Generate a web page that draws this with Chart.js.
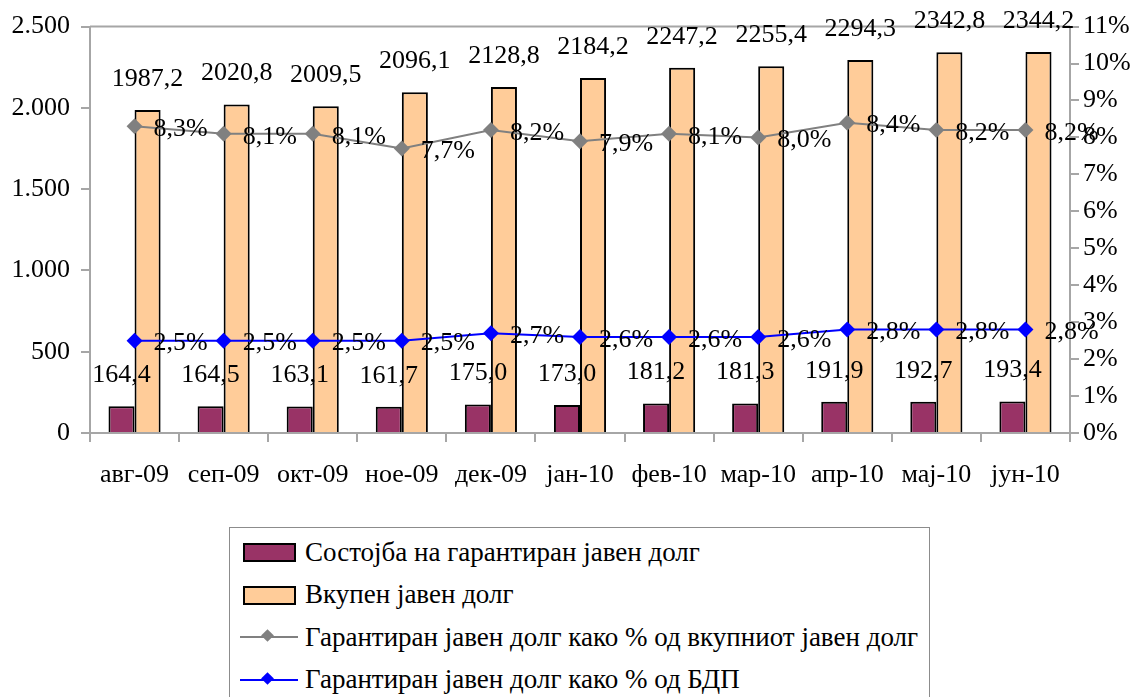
<!DOCTYPE html>
<html>
<head>
<meta charset="utf-8">
<script src="https://cdn.jsdelivr.net/npm/chart.js@4.4.1/dist/chart.umd.min.js"></script>
<style>
  body { margin: 0; background: #fff; }
  #wrap { position: relative; width: 1130px; height: 697px; overflow: hidden; }
  #legend {
    position: absolute; left: 229px; top: 527px; width: 701px; height: 185px;
    border: 1px solid #8c8c8c; box-sizing: border-box; background: #fff;
    font-family: "Liberation Serif", serif; font-size: 27px; color: #000;
  }
  .item { position: absolute; left: 10px; height: 30px; display: flex; align-items: center; white-space: nowrap; }
  .sw { width: 58px; height: 30px; position: relative; margin-right: 7px; }
  .box { position: absolute; left: 3px; top: 6px; width: 49px; height: 15px; border: 2px solid #000; }
  .ln { position: absolute; left: 0; top: 14px; width: 58px; height: 2px; }
  .dia { position: absolute; left: 23px; top: 9px; width: 9px; height: 9px; transform: rotate(45deg); }
</style>
</head>
<body>
<div id="wrap">
  <canvas id="chart" width="1130" height="697"></canvas>
  <div id="legend"></div>
</div>
<script>
// categories (months)
const months = ['авг-09', 'сеп-09', 'окт-09', 'ное-09', 'дек-09', 'јан-10', 'фев-10', 'мар-10', 'апр-10', 'мај-10', 'јун-10'];

// millions
const guaranteedDebt = [164.4, 164.5, 163.1, 161.7, 175.0, 173.0, 181.2, 181.3, 191.9, 192.7, 193.4];
const totalDebt = [1987.2, 2020.8, 2009.5, 2096.1, 2128.8, 2184.2, 2247.2, 2255.4, 2294.3, 2342.8, 2344.2];

// percentages (right axis)
const pctOfTotal = [8.3, 8.1, 8.1, 7.7, 8.2, 7.9, 8.1, 8.0, 8.4, 8.2, 8.2];
const pctOfGdp = [2.5, 2.5, 2.5, 2.5, 2.7, 2.6, 2.6, 2.6, 2.8, 2.8, 2.8];

const FONT = '"Liberation Serif", serif';
const AXIS = '#a6a6a6';

function dec(v) { return v.toFixed(1).replace('.', ','); }
function thousands(v) { return String(v).replace(/\B(?=(\d{3})+(?!\d))/g, '.'); }

// draws the value labels and the top frame line of the plot area
const labelsPlugin = {
  id: 'valueLabels',
  beforeDatasetsDraw(chart) {
    const { ctx, chartArea } = chart;
    ctx.save();
    ctx.strokeStyle = AXIS;
    ctx.lineWidth = 2;
    ctx.beginPath();
    ctx.moveTo(chartArea.left, chartArea.top);
    ctx.lineTo(chartArea.right, chartArea.top);
    ctx.stroke();
    ctx.restore();
  },
  afterDatasetsDraw(chart) {
    const ctx = chart.ctx;
    ctx.save();
    ctx.font = '26px ' + FONT;
    ctx.fillStyle = '#000';
    chart.data.datasets.forEach((ds, i) => {
      const meta = chart.getDatasetMeta(i);
      meta.data.forEach((el, j) => {
        ctx.textBaseline = 'middle';
        if (ds.type === 'line') {
          ctx.textAlign = 'left';
          ctx.fillText(dec(ds.data[j]) + '%', el.x + 19, el.y + 3);
        } else {
          ctx.textAlign = 'center';
          ctx.fillText(dec(ds.data[j]), el.x, el.y - 31);
        }
      });
    });
    ctx.restore();
  }
};

const chart = new Chart(document.getElementById('chart'), {
  type: 'bar',
  data: {
    labels: months,
    datasets: [
      {
        type: 'line',
        label: 'Гарантиран јавен долг како % од вкупниот јавен долг',
        data: pctOfTotal,
        yAxisID: 'y1',
        borderColor: '#808080',
        backgroundColor: '#808080',
        borderWidth: 2,
        pointStyle: 'rectRot',
        pointRadius: 8,
        pointBorderWidth: 0,
        order: 0
      },
      {
        type: 'line',
        label: 'Гарантиран јавен долг како % од БДП',
        data: pctOfGdp,
        yAxisID: 'y1',
        borderColor: '#0000ff',
        backgroundColor: '#0000ff',
        borderWidth: 2,
        pointStyle: 'rectRot',
        pointRadius: 8,
        pointBorderWidth: 0,
        order: 0
      },
      {
        label: 'Состојба на гарантиран јавен долг',
        data: guaranteedDebt,
        yAxisID: 'y',
        backgroundColor: '#993366',
        borderColor: '#000',
        borderWidth: 2,
        categoryPercentage: 0.585,
        barPercentage: 1,
        order: 1
      },
      {
        label: 'Вкупен јавен долг',
        data: totalDebt,
        yAxisID: 'y',
        backgroundColor: '#ffcc99',
        borderColor: '#000',
        borderWidth: 2,
        categoryPercentage: 0.585,
        barPercentage: 1,
        order: 1
      }
    ]
  },
  options: {
    responsive: false,
    animation: false,
    devicePixelRatio: 1,
    layout: { padding: { top: 22, left: 0, right: 0, bottom: 0 } },
    plugins: {
      legend: { display: false },
      tooltip: { enabled: false }
    },
    scales: {
      x: {
        afterFit: s => { s.height = 264; },
        grid: { offset: true, drawOnChartArea: false, color: AXIS, tickLength: 9, lineWidth: 2 },
        border: { color: AXIS, width: 2 },
        ticks: { color: '#000', font: { family: FONT, size: 26 }, padding: 18, maxRotation: 0 }
      },
      y: {
        position: 'left',
        min: 0,
        max: 2500,
        afterFit: s => { s.width = 90; },
        grid: { drawOnChartArea: false, color: AXIS, tickLength: 9, lineWidth: 2 },
        border: { color: AXIS, width: 2 },
        ticks: { stepSize: 500, color: '#000', font: { family: FONT, size: 26 }, padding: 11, callback: v => thousands(v) }
      },
      y1: {
        position: 'right',
        min: 0,
        max: 11,
        afterFit: s => { s.width = 60; },
        grid: { drawOnChartArea: false, color: AXIS, tickLength: 9, lineWidth: 2 },
        border: { color: AXIS, width: 2 },
        ticks: { stepSize: 1, color: '#000', font: { family: FONT, size: 26 }, padding: 4, callback: v => v + '%' }
      }
    }
  },
  plugins: [labelsPlugin]
});

// html legend built from the datasets, in the reference's order
const legendOrder = [2, 3, 0, 1];
const legendEl = document.getElementById('legend');
legendOrder.forEach((idx, row) => {
  const ds = chart.data.datasets[idx];
  const item = document.createElement('div');
  item.className = 'item';
  item.style.top = (9 + row * 42.5) + 'px';
  const sw = document.createElement('div');
  sw.className = 'sw';
  if (ds.type === 'line') {
    sw.innerHTML = '<div class="ln" style="background:' + ds.borderColor + '"></div>' +
      '<div class="dia" style="background:' + ds.borderColor + '"></div>';
  } else {
    sw.innerHTML = '<div class="box" style="background:' + ds.backgroundColor + '"></div>';
  }
  const txt = document.createElement('span');
  txt.textContent = ds.label;
  item.appendChild(sw);
  item.appendChild(txt);
  legendEl.appendChild(item);
});
</script>
</body>
</html>
